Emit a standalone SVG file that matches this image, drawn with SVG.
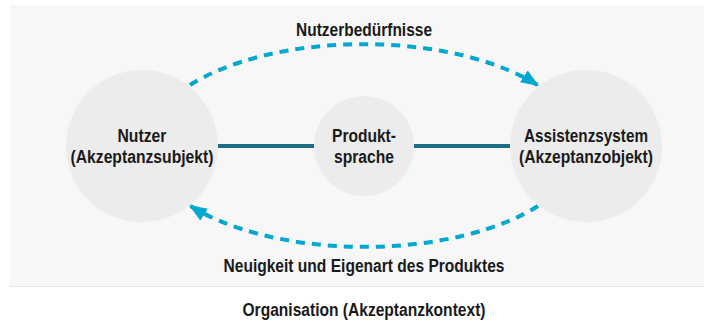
<svg xmlns="http://www.w3.org/2000/svg" width="704" height="322" viewBox="0 0 704 322">
  <style>
    .t { font-family: "Liberation Sans", Arial, sans-serif; font-weight: bold; font-size: 17.5px; fill: #1a1a1a; text-anchor: middle; }
    .node { fill: #ececec; }
    .link { stroke: #1c6e86; stroke-width: 4; fill: none; }
    .flow { stroke: #00a7cf; stroke-width: 4; fill: none; stroke-dasharray: 9 7; }
  </style>
  <defs>
    <marker id="arrow" markerUnits="userSpaceOnUse" markerWidth="22" markerHeight="22" refX="18" refY="7" orient="auto">
      <path d="M0,0 L18,7 L0,14 Z" fill="#00a7cf"/>
    </marker>
  </defs>
  <rect x="10" y="5" width="694" height="281" fill="#f7f7f7"/>
  <line x1="10" y1="286.5" x2="704" y2="286.5" stroke="#e6e6e6" stroke-width="1"/>

  <g id="connectors">
    <line class="link" x1="218" y1="146" x2="315" y2="146"/>
    <line class="link" x1="413" y1="146" x2="512" y2="146"/>
    <path class="flow" d="M190,85 A217,102 0 0 1 539,86" marker-end="url(#arrow)"/>
    <path class="flow" d="M538,206 A217,102 0 0 1 189,205" marker-end="url(#arrow)"/>
  </g>

  <g id="nutzer">
    <ellipse class="node" cx="142" cy="146" rx="76" ry="76"/>
    <text class="t" x="142" y="142" textLength="49" lengthAdjust="spacingAndGlyphs">Nutzer</text>
    <text class="t" x="142" y="163" textLength="143" lengthAdjust="spacingAndGlyphs">(Akzeptanzsubjekt)</text>
  </g>
  <g id="produktsprache">
    <ellipse class="node" cx="364" cy="146" rx="50" ry="50"/>
    <text class="t" x="364" y="142" textLength="64" lengthAdjust="spacingAndGlyphs">Produkt-</text>
    <text class="t" x="364" y="163" textLength="60" lengthAdjust="spacingAndGlyphs">sprache</text>
  </g>
  <g id="assistenzsystem">
    <ellipse class="node" cx="586" cy="146" rx="76" ry="76"/>
    <text class="t" x="586" y="142" textLength="124" lengthAdjust="spacingAndGlyphs">Assistenzsystem</text>
    <text class="t" x="586" y="163" textLength="134" lengthAdjust="spacingAndGlyphs">(Akzeptanzobjekt)</text>
  </g>

  <g id="labels">
    <text class="t" x="364" y="36" textLength="136" lengthAdjust="spacingAndGlyphs">Nutzerbedürfnisse</text>
    <text class="t" x="364" y="272" textLength="281" lengthAdjust="spacingAndGlyphs">Neuigkeit und Eigenart des Produktes</text>
    <text class="t" x="364" y="316" textLength="243" lengthAdjust="spacingAndGlyphs">Organisation (Akzeptanzkontext)</text>
  </g>
</svg>
